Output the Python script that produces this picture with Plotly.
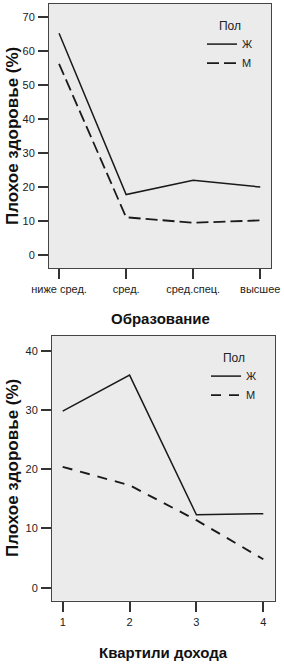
import plotly.graph_objects as go

# ---- data ----
edu_labels = ["ниже сред.", "сред.", "сред.спец.", "высшее"]
edu_f = [65.2, 17.8, 22.0, 20.0]
edu_m = [56.2, 11.1, 9.5, 10.2]

inc_labels = ["1", "2", "3", "4"]
inc_x = [1, 2, 3, 4]
inc_f = [29.8, 35.9, 12.3, 12.5]
inc_m = [20.4, 17.3, 11.4, 4.8]

W, H = 284, 664
def px_x(a, b):
    return [a / W, b / W]
def px_y(top, bottom):
    return [1 - bottom / H, 1 - top / H]

FONT = "Liberation Sans, Arial, sans-serif"
LINE = "#1a1a1a"
BG = "#ebebeb"

fig = go.Figure()
fig.add_trace(go.Scatter(x=list(range(4)), y=edu_f, mode="lines", name="Ж",
                         line=dict(color=LINE, width=1.5), xaxis="x", yaxis="y", legend="legend"))
fig.add_trace(go.Scatter(x=list(range(4)), y=edu_m, mode="lines", name="М",
                         line=dict(color=LINE, width=1.8, dash="12px,5px"), xaxis="x", yaxis="y", legend="legend"))
fig.add_trace(go.Scatter(x=inc_x, y=inc_f, mode="lines", name="Ж",
                         line=dict(color=LINE, width=1.5), xaxis="x2", yaxis="y2", legend="legend2"))
fig.add_trace(go.Scatter(x=inc_x, y=inc_m, mode="lines", name="М",
                         line=dict(color=LINE, width=1.9, dash="10px,8px"), xaxis="x2", yaxis="y2", legend="legend2"))

axis_common = dict(showgrid=False, zeroline=False, showline=True, linecolor="#444", linewidth=1,
                   mirror=True, ticks="outside", ticklen=10, tickcolor="#333", tickwidth=1.5,
                   automargin=False, ticklabelstandoff=1,
                   tickfont=dict(family=FONT, size=11, color="#222"))

fig.update_layout(
    template="none",
    width=W, height=H, margin=dict(l=0, r=0, t=0, b=0, autoexpand=False),
    paper_bgcolor="white", plot_bgcolor=BG,
    xaxis=dict(domain=px_x(49, 271), anchor="y", range=[-0.15, 3.16],
               tickmode="array", tickvals=list(range(4)), ticktext=edu_labels, **axis_common),
    yaxis=dict(domain=px_y(4, 268), anchor="x", range=[-3.8, 73.8],
               tickvals=[0, 10, 20, 30, 40, 50, 60, 70], **axis_common),
    xaxis2=dict(domain=px_x(52, 275), anchor="y2", range=[0.84, 4.175],
                tickmode="array", tickvals=inc_x, ticktext=inc_labels, **axis_common),
    yaxis2=dict(domain=px_y(336, 600.7), anchor="x2", range=[-2.2, 42.5],
                tickvals=[0, 10, 20, 30, 40], **axis_common),
    legend=dict(x=202 / W, y=1 - 14 / H, xanchor="left", yanchor="top",
                bgcolor="rgba(0,0,0,0)", font=dict(family=FONT, size=11, color="#222"),
                title=dict(text="Пол", side="top center", font=dict(family=FONT, size=12, color="#222")),
                itemwidth=30, tracegroupgap=0),
    legend2=dict(x=206 / W, y=1 - 346 / H, xanchor="left", yanchor="top",
                 bgcolor="rgba(0,0,0,0)", font=dict(family=FONT, size=11, color="#222"),
                 title=dict(text="Пол", side="top center", font=dict(family=FONT, size=12, color="#222")),
                 itemwidth=30, tracegroupgap=0),
    showlegend=True,
)

title_font = dict(family=FONT, size=17, color="#111")
annotations = [
    dict(text="<b>Образование</b>", x=160 / W, y=1 - 318 / H, xref="paper", yref="paper",
         showarrow=False, font=dict(family=FONT, size=15, color="#111"), xanchor="center", yanchor="middle"),
    dict(text="<b>Квартили дохода</b>", x=163 / W, y=1 - 652 / H, xref="paper", yref="paper",
         showarrow=False, font=dict(family=FONT, size=15, color="#111"), xanchor="center", yanchor="middle"),
    dict(text="<b>Плохое здоровье (%)</b>", x=12 / W, y=1 - 136 / H, xref="paper", yref="paper",
         showarrow=False, font=title_font, textangle=-90, xanchor="center", yanchor="middle"),
    dict(text="<b>Плохое здоровье (%)</b>", x=12 / W, y=1 - 468 / H, xref="paper", yref="paper",
         showarrow=False, font=title_font, textangle=-90, xanchor="center", yanchor="middle"),
]
fig.update_layout(annotations=annotations)

fig.write_html("out.html")
